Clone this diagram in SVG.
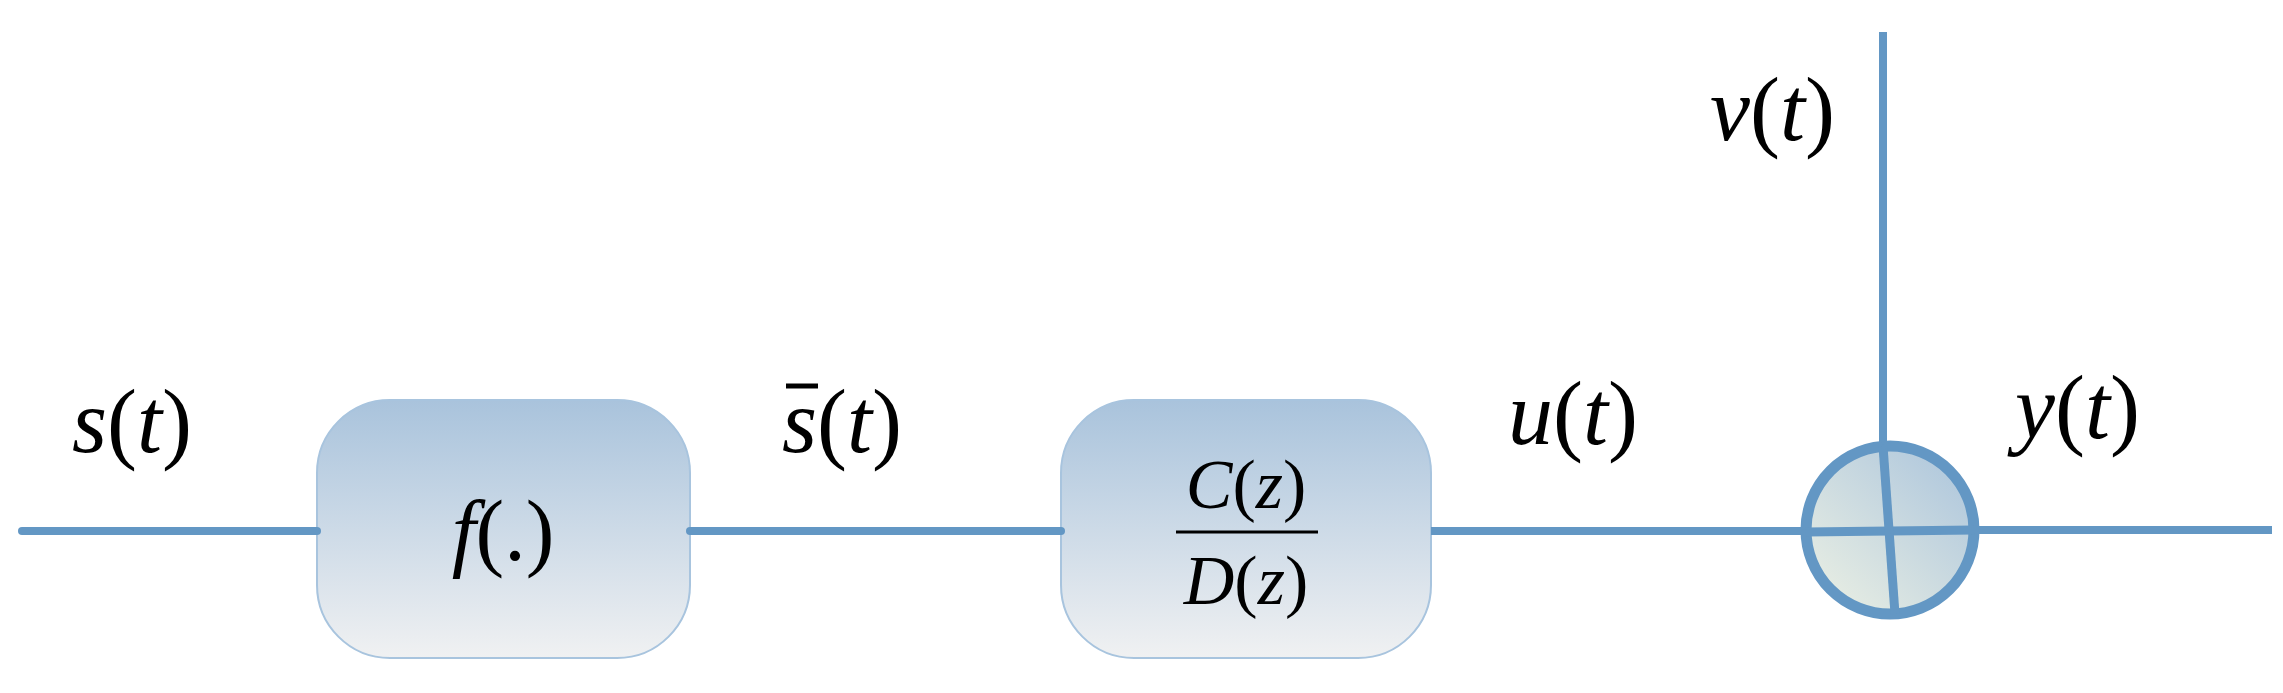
<svg xmlns="http://www.w3.org/2000/svg" width="2283" height="693" viewBox="0 0 2283 693">
<style>
.t{font-family:"Liberation Serif",serif;fill:#000}
.i{font-style:italic}
.c{stroke:#6397c4;stroke-width:8;fill:none}
.box{fill:url(#g);stroke:#a8c4de;stroke-width:2}
</style>
<defs>
<linearGradient id="g" x1="0" y1="0" x2="0" y2="1"><stop offset="0" stop-color="#a9c3dc"/><stop offset="1" stop-color="#f0f1f2"/></linearGradient>
<linearGradient id="g2" x1="1" y1="0" x2="0" y2="1"><stop offset="0" stop-color="#a9c3dc"/><stop offset="1" stop-color="#eef2e4"/></linearGradient>
<marker id="a" markerWidth="8" markerHeight="8" refX="8" refY="4" orient="auto" markerUnits="userSpaceOnUse" viewBox="0 0 8 8"><path d="M0,0L8,4L0,8Z" fill="#6397c4"/></marker>
</defs>
<g id="box1"><rect class="box" x="317" y="400" width="373" height="258" rx="73"/>
<text class="t" x="503" y="560" font-size="86" text-anchor="middle"><tspan class="i">f</tspan>(.)</text></g>
<g id="box2"><rect class="box" x="1061" y="400" width="370" height="258" rx="73"/>
<text class="t" x="1246" y="508" font-size="70" text-anchor="middle"><tspan class="i">C</tspan>(<tspan class="i">z</tspan>)</text>
<line x1="1176" y1="532" x2="1318" y2="532" stroke="#000" stroke-width="3"/>
<text class="t" x="1246" y="604" font-size="70" text-anchor="middle"><tspan class="i">D</tspan>(<tspan class="i">z</tspan>)</text></g>
<g id="sum"><circle cx="1890" cy="530" r="84" fill="url(#g2)" stroke="#6397c4" stroke-width="11"/>
<line x1="1806" y1="532" x2="1974" y2="530" stroke="#6397c4" stroke-width="9"/>
<line x1="1883" y1="446" x2="1895" y2="614" stroke="#6397c4" stroke-width="9"/></g>
<g id="connectors">
<line class="c" x1="22" y1="531" x2="317" y2="531" marker-end="url(#a)" style="stroke-linecap:round"/>
<line class="c" x1="690" y1="531" x2="1061" y2="531" marker-end="url(#a)" style="stroke-linecap:round"/>
<line class="c" x1="1431" y1="531" x2="1803" y2="531" marker-end="url(#a)"/>
<line class="c" x1="1883" y1="32" x2="1883" y2="446" marker-end="url(#a)"/>
<line class="c" x1="1976" y1="530" x2="2272" y2="530" marker-end="url(#a)"/>
</g>
<g id="labels" font-size="90">
<text class="t" x="72" y="452"><tspan class="i">s</tspan>(<tspan class="i">t</tspan>)</text>
<text class="t" x="782" y="452"><tspan class="i">s</tspan>(<tspan class="i">t</tspan>)</text>
<line x1="786" y1="386" x2="818" y2="386" stroke="#000" stroke-width="5"/>
<text class="t" x="1508" y="444"><tspan class="i">u</tspan>(<tspan class="i">t</tspan>)</text>
<text class="t" x="2015" y="438"><tspan class="i">y</tspan>(<tspan class="i">t</tspan>)</text>
<text class="t" x="1710" y="140"><tspan class="i">v</tspan>(<tspan class="i">t</tspan>)</text>
</g>
</svg>
